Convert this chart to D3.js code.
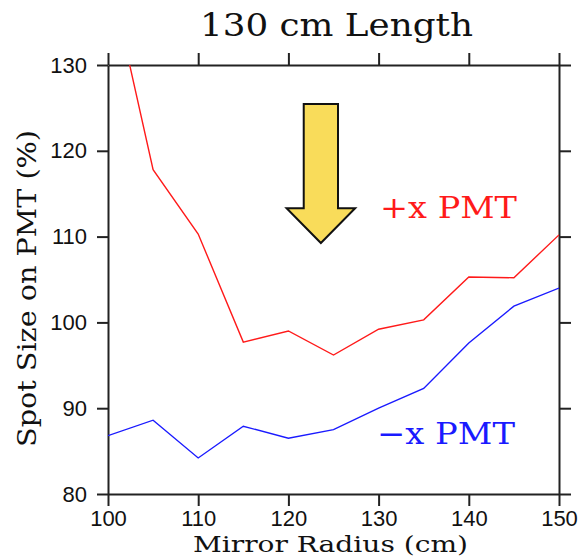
<!DOCTYPE html>
<html>
<head>
<meta charset="utf-8">
<script src="https://cdn.jsdelivr.net/npm/d3@7"></script>
<style>
  body { margin: 0; background: #fff; }
  .axis path, .axis line { stroke: #222; stroke-width: 2; }
  .tick text { font-family: "Liberation Sans", Arial, sans-serif; font-size: 22px; fill: #111; }
  .lbl { font-family: "DejaVu Serif", serif; fill: #111; }
</style>
</head>
<body>
<script>
    // mirror radius (cm)
    var radius = [100, 105, 110, 115, 120, 125, 130, 135, 140, 145, 150];
    // spot size on PMT (%)
    var plusX  = [141.3, 117.8, 110.3, 97.7, 99.0, 96.2, 99.2, 100.3, 105.3, 105.2, 110.2];
    var minusX = [86.8, 88.6, 84.2, 87.9, 86.5, 87.5, 90.0, 92.3, 97.6, 101.9, 104.0];
    var xTicks = [100, 110, 120, 130, 140, 150];
    var yTicks = [80, 90, 100, 110, 120, 130];

    var margin = {top: 65, right: 21, bottom: 64, left: 108},
        width = 580 - margin.left - margin.right,
        height = 558 - margin.top - margin.bottom;

    var x = d3.scaleLinear().domain([100, 150]).range([0, width]);
    var y = d3.scaleLinear().domain([80, 130]).range([height, 0]);

    var svg = d3.select("body").append("svg")
        .attr("width", 580)
        .attr("height", 558);

    var g = svg.append("g")
        .attr("transform", "translate(" + margin.left + "," + margin.top + ")");

    g.append("clipPath").attr("id", "plotclip")
        .append("rect").attr("width", width).attr("height", height);

    // axes on all four sides, ticks pointing outward
    g.append("g").attr("class", "x axis")
        .attr("transform", "translate(0," + height + ")")
        .call(d3.axisBottom(x).tickValues(xTicks).tickSize(12).tickSizeOuter(0).tickPadding(4));
    g.append("g").attr("class", "x axis")
        .call(d3.axisTop(x).tickValues(xTicks).tickSize(12).tickSizeOuter(0).tickFormat(""));
    g.append("g").attr("class", "y axis")
        .call(d3.axisLeft(y).tickValues(yTicks).tickSize(11).tickSizeOuter(0).tickPadding(10));
    g.append("g").attr("class", "y axis")
        .attr("transform", "translate(" + width + ",0)")
        .call(d3.axisRight(y).tickValues(yTicks).tickSize(12).tickSizeOuter(0).tickFormat(""));

    var line = d3.line()
        .x(function(d, i) { return x(radius[i]); })
        .y(function(d) { return y(d); });

    var lines = g.append("g").attr("clip-path", "url(#plotclip)");
    lines.append("path").datum(plusX)
        .attr("d", line).attr("fill", "none")
        .attr("stroke", "#ff1a1a").attr("stroke-width", 1.4);
    lines.append("path").datum(minusX)
        .attr("d", line).attr("fill", "none")
        .attr("stroke", "#1a1aff").attr("stroke-width", 1.4);

    // yellow arrow, given in data units
    var arrowX = 123.6, arrowTop = 125.45, shaftEnd = 113.3, arrowTip = 109.25;
    var shaftHalf = 1.9, headHalf = 3.8;
    var arrowPts = [
        [arrowX - shaftHalf, arrowTop], [arrowX + shaftHalf, arrowTop],
        [arrowX + shaftHalf, shaftEnd], [arrowX + headHalf, shaftEnd],
        [arrowX, arrowTip], [arrowX - headHalf, shaftEnd],
        [arrowX - shaftHalf, shaftEnd]
    ];
    g.append("polygon")
        .attr("points", arrowPts.map(function(p) { return x(p[0]) + "," + y(p[1]); }).join(" "))
        .attr("fill", "#f9dc5a")
        .attr("stroke", "#111")
        .attr("stroke-width", 2)
        .attr("stroke-linejoin", "miter");

    // series labels
    g.append("text").attr("class", "lbl")
        .attr("x", 272).attr("y", 153)
        .attr("font-size", 30).attr("textLength", 137).attr("lengthAdjust", "spacingAndGlyphs")
        .style("fill", "#ff1a1a")
        .text("+x PMT");
    g.append("text").attr("class", "lbl")
        .attr("x", 269).attr("y", 379)
        .attr("font-size", 30).attr("textLength", 138).attr("lengthAdjust", "spacingAndGlyphs")
        .style("fill", "#1a1aff")
        .text("\u2212x PMT");

    // titles
    svg.append("text").attr("class", "lbl")
        .attr("x", 200).attr("y", 36)
        .attr("font-size", 31).attr("textLength", 273).attr("lengthAdjust", "spacingAndGlyphs")
        .text("130 cm Length");
    svg.append("text").attr("class", "lbl")
        .attr("x", 193).attr("y", 552)
        .attr("font-size", 22).attr("textLength", 275).attr("lengthAdjust", "spacingAndGlyphs")
        .text("Mirror Radius (cm)");
    svg.append("text").attr("class", "lbl")
        .attr("transform", "translate(36,447) rotate(-90)")
        .attr("font-size", 26).attr("textLength", 317).attr("lengthAdjust", "spacingAndGlyphs")
        .text("Spot Size on PMT (%)");
</script>
</body>
</html>
